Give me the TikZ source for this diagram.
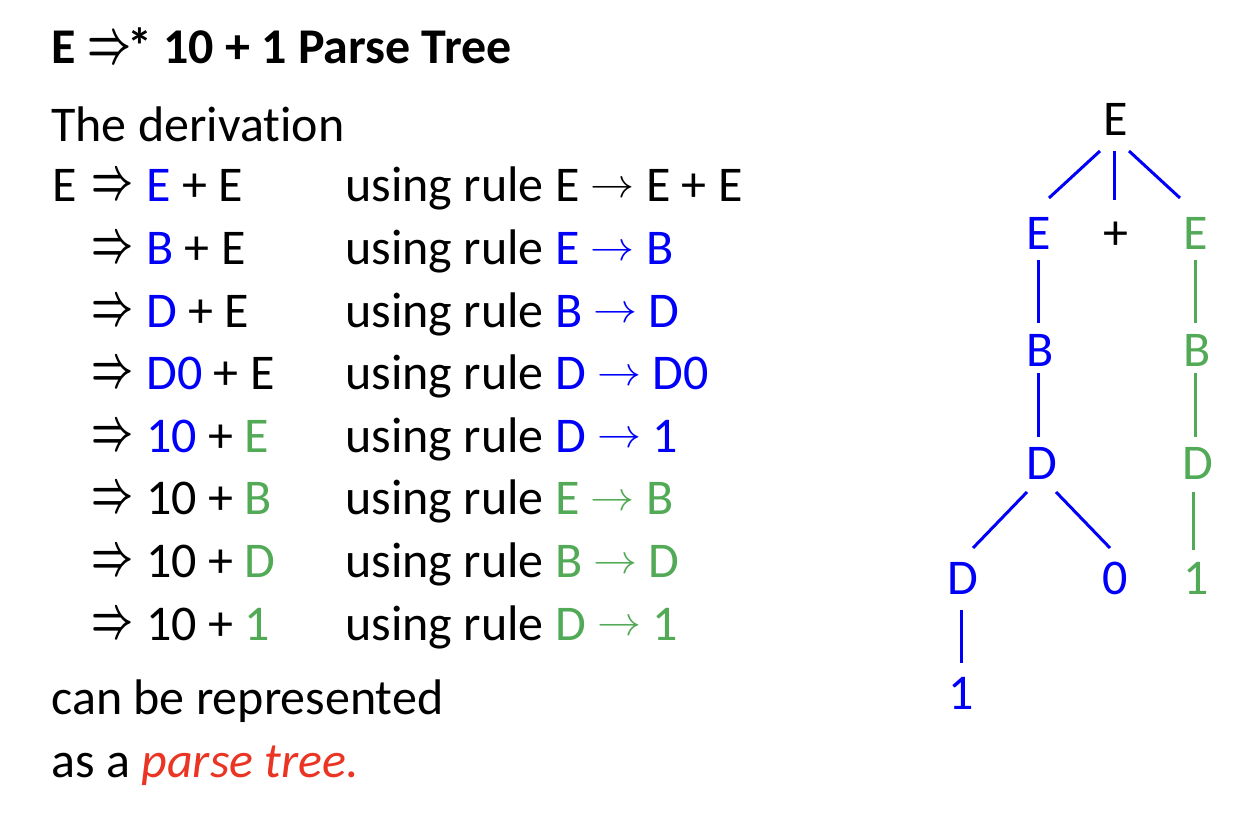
\documentclass[tikz,border=0pt]{standalone}
\usepackage{fontspec}
\usepackage{graphicx}
\setmainfont[RawFeature={-liga;-clig;-dlig}]{Carlito}
\usetikzlibrary{calc}

\definecolor{ntblue}{RGB}{0,0,250}
\definecolor{ntgreen}{RGB}{82,170,86}
\definecolor{emred}{RGB}{234,52,36}

% arrows sized to the body text
\newcommand{\derives}{\raisebox{1.5pt}{\resizebox{21pt}{11.5pt}{\boldmath$\Rightarrow$}}}
\newcommand{\rulearrow}{\raisebox{2.2pt}{\resizebox{22pt}{7.5pt}{$\rightarrow$}}}
\newcommand{\bl}[1]{\textcolor{ntblue}{#1}}
\newcommand{\gr}[1]{\textcolor{ntgreen}{#1}}

\tikzset{
  txt/.style={anchor=base west, inner sep=0pt, font=\fontsize{25}{30}\selectfont},
  tn/.style={anchor=base, inner sep=0pt, font=\fontsize{25}{30}\selectfont},
  bedge/.style={draw=ntblue, line width=1.5pt},
  gedge/.style={draw=ntgreen, line width=1.5pt}
}

\begin{document}
\begin{tikzpicture}[x=0.5pt, y=-0.5pt]
\useasboundingbox (0,0) rectangle (1254,822);

% heading and text
\node[txt, font=\fontsize{25}{30}\selectfont\bfseries] (title) at (51,64)
  {E \raisebox{0.5pt}{\resizebox{22pt}{12pt}{\boldmath$\Rightarrow$}}\kern-2pt* 10 + 1 Parse Tree};
\node[txt] (intro) at (51,142) {The derivation};

% derivation steps
\node[txt] (s0) at (52,202) {E};
\foreach \i/\y in {1/202,2/264.6,3/327.2,4/389.8,5/452.4,6/515,7/577.6,8/640.2}
  \node[txt] (d\i) at (91,\y) {\derives};

\node[txt] (f1) at (146,202)   {\bl{E} + E};
\node[txt] (f2) at (146,264.6) {\bl{B} + E};
\node[txt] (f3) at (146,327.2) {\bl{D} + E};
\node[txt] (f4) at (146,389.8) {\bl{D0} + E};
\node[txt] (f5) at (146,452.4) {\bl{10} + \gr{E}};
\node[txt] (f6) at (146,515)   {10 + \gr{B}};
\node[txt] (f7) at (146,577.6) {10 + \gr{D}};
\node[txt] (f8) at (146,640.2) {10 + \gr{1}};

\node[txt] (r1) at (345,202)   {using rule E \rulearrow{} E + E};
\node[txt] (r2) at (345,264.6) {using rule \bl{E \rulearrow{} B}};
\node[txt] (r3) at (345,327.2) {using rule \bl{B \rulearrow{} D}};
\node[txt] (r4) at (345,389.8) {using rule \bl{D \rulearrow{} D0}};
\node[txt] (r5) at (345,452.4) {using rule \bl{D \rulearrow{} 1}};
\node[txt] (r6) at (345,515)   {using rule \gr{E \rulearrow{} B}};
\node[txt] (r7) at (345,577.6) {using rule \gr{B \rulearrow{} D}};
\node[txt] (r8) at (345,640.2) {using rule \gr{D \rulearrow{} 1}};

\node[txt] (c1) at (51,715) {can be represented};
\node[txt] (c2) at (51,778) {as a \textcolor{emred}{\itshape parse tree.}};

% parse tree
\node[tn] (root) at (1116,136) {E};
\node[tn, text=ntblue]  (eL)   at (1039,250) {E};
\node[tn]               (plus) at (1116,250) {+};
\node[tn, text=ntgreen] (eR)   at (1196,250) {E};
\node[tn, text=ntblue]  (bL)   at (1040,367) {B};
\node[tn, text=ntgreen] (bR)   at (1197,367) {B};
\node[tn, text=ntblue]  (dL)   at (1042,480) {D};
\node[tn, text=ntgreen] (dR)   at (1198,480) {D};
\node[tn, text=ntblue]  (dd)   at (963,595)  {D};
\node[tn, text=ntblue]  (zero) at (1115,595) {0};
\node[tn, text=ntgreen] (oneR) at (1196,595) {1};
\node[tn, text=ntblue]  (oneL) at (961,710)  {1};

\draw[bedge] ($(root.base)+(-16,15)$) -- ($(eL.base)+(10,-52)$);
\draw[bedge] ($(root.base)+(-2,15)$)  -- ($(plus.base)+(-2,-50)$);
\draw[bedge] ($(root.base)+(13,15)$)  -- ($(eR.base)+(-16,-52)$);
\draw[bedge] ($(eL.base)+(-1,10)$)    -- ($(bL.base)+(-2,-44)$);
\draw[gedge] ($(eR.base)+(-1,10)$)    -- ($(bR.base)+(-2,-44)$);
\draw[bedge] ($(bL.base)+(-2,6)$)     -- ($(dL.base)+(-4,-43)$);
\draw[gedge] ($(bR.base)+(-2,6)$)     -- ($(dR.base)+(-3,-43)$);
\draw[bedge] ($(dL.base)+(-15,12)$)   -- ($(dd.base)+(10,-47)$);
\draw[bedge] ($(dL.base)+(14,12)$)    -- ($(zero.base)+(-5,-47)$);
\draw[gedge] ($(dR.base)+(-5,12)$)    -- ($(oneR.base)+(-3,-45)$);
\draw[bedge] ($(dd.base)+(-2,15)$)    -- ($(oneL.base)+(0,-47)$);
\end{tikzpicture}
\end{document}
